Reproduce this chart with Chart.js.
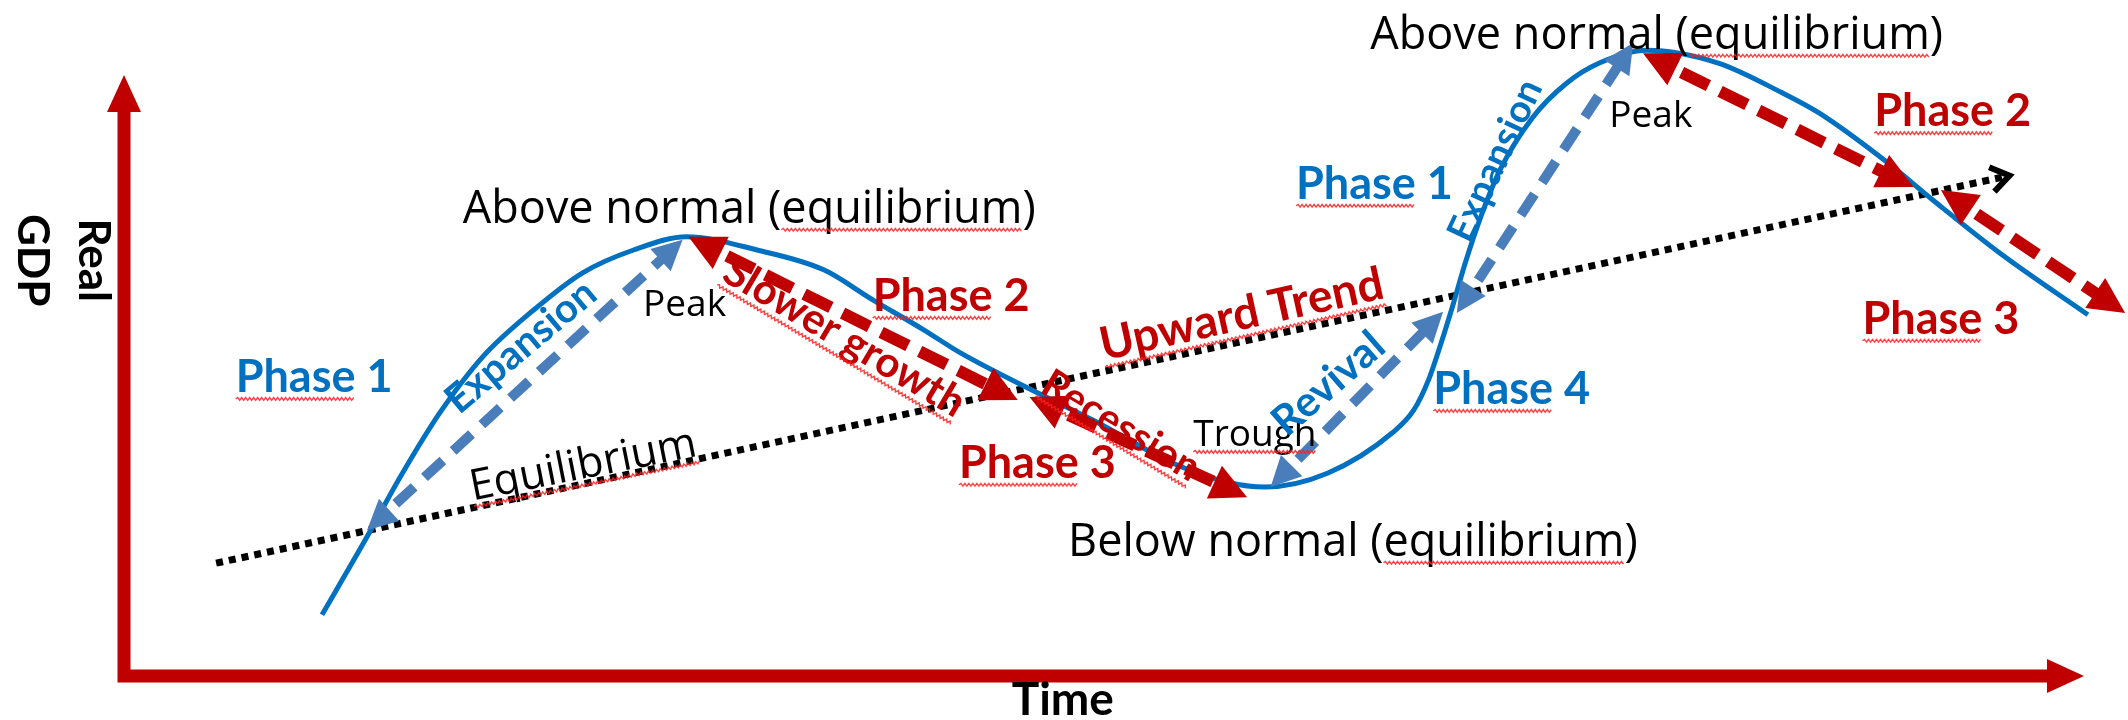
<!DOCTYPE html>
<html>
<head>
<meta charset="utf-8">
<title>Business cycle</title>
<script src="https://cdn.jsdelivr.net/npm/chart.js@4.4.1/dist/chart.umd.min.js"></script>
<style>
  body { margin: 0; background: #ffffff; }
  canvas { display: block; }
</style>
</head>
<body>
<canvas id="myChart" width="2128" height="720"></canvas>
<script>
// business cycle: time (x) against real GDP (y), both on a 0-100 scale
const cycleTime = [10.1, 12.4, 14.1, 16.1, 18.3, 20.9, 23.4, 26.0, 28.7, 32.3, 35.7, 38.2, 40.8, 42.7, 46.6, 49.4, 53.7, 56.3, 58.2,
                   61.4, 64.7, 65.8, 66.6, 67.2, 67.8, 68.4, 69.2, 70.2, 71.9, 73.6, 75.3, 77.7, 81.3, 84.6, 86.5, 90.0, 92.3, 95.7, 100.2];
const cycleGdp = [10.2, 23.2, 33.2, 43.8, 53.2, 61.0, 67.2, 71.0, 73.2, 71.0, 67.7, 62.7, 57.7, 53.8, 47.2, 42.7, 35.2, 32.3, 31.5,
                  33.8, 40.5, 44.3, 49.7, 55.5, 61.8, 68.5, 76.3, 84.3, 93.2, 98.8, 102.2, 104.3, 102.2, 97.2, 93.8, 85.5, 79.3, 70.5, 60.2];

// long run (equilibrium) trend
const trendTime = [4.7, 96.2];
const trendGdp = [18.8, 83.4];

// phase arrows, start and end of each
const blueArrowTime = [[12.4, 28.5], [58.5, 67.3], [68.0, 77.0]];
const blueArrowGdp = [[24.3, 72.7], [31.5, 60.7], [60.5, 105.5]];
const redArrowTime = [[28.8, 45.6], [46.2, 57.3], [77.5, 91.3], [92.7, 102.1]];
const redArrowGdp = [[73.2, 46.0], [46.5, 29.8], [103.8, 81.5], [81.0, 60.5]];

// text notes and where they sit
const labelText = ['Above normal (equilibrium)', 'Above normal (equilibrium)', 'Below normal (equilibrium)', 'Peak', 'Peak', 'Trough',
                   'Equilibrium', 'Phase 1', 'Phase 1', 'Phase 2', 'Phase 2', 'Phase 3', 'Phase 3', 'Phase 4',
                   'Expansion', 'Expansion', 'Revival', 'Slower growth', 'Recession', 'Upward Trend'];
const labelTime = [31.9, 78.2, 62.7, 28.6, 77.9, 57.7, 23.4, 9.7, 63.8, 42.2, 93.3, 46.6, 92.7, 70.8, 20.2, 69.9, 61.4, 36.8, 50.9, 57.0];
const labelGdp = [78.2, 107.2, 22.7, 62.2, 93.8, 40.5, 35.5, 50.0, 82.2, 63.5, 94.3, 35.7, 59.7, 48.0, 55.1, 86.0, 48.9, 56.7, 41.9, 60.5];

const axisTitles = ['Real', 'GDP', 'Time'];

const RED = '#c00000';
const BLUE = '#0070c0';
const ARROW_BLUE = '#4a7ebb';

function st(family, weight, size, color, angle, wavy) {
  return { font: weight + ' ' + size + 'px "' + family + '"', size: size, color: color, angle: angle || 0, wavy: wavy || null };
}

const labelStyle = [
  st('Open Sans', 'normal', 45, '#000', 0, 'equilibrium'),
  st('Open Sans', 'normal', 45, '#000', 0, 'equilibrium'),
  st('Open Sans', 'normal', 45, '#000', 0, 'equilibrium'),
  st('Open Sans', 'normal', 37, '#000'),
  st('Open Sans', 'normal', 37, '#000'),
  st('Open Sans', 'normal', 37, '#000', 0, 'Trough'),
  st('Open Sans', 'normal', 43, '#000', -11.2, 'Equilibrium'),
  st('Lato', 'bold', 45, BLUE, 0, 'Phase'),
  st('Lato', 'bold', 45, BLUE, 0, 'Phase'),
  st('Lato', 'bold', 45, RED, 0, 'Phase'),
  st('Lato', 'bold', 45, RED, 0, 'Phase'),
  st('Lato', 'bold', 45, RED, 0, 'Phase'),
  st('Lato', 'bold', 45, RED, 0, 'Phase'),
  st('Lato', 'bold', 45, BLUE, 0, 'Phase'),
  st('Lato', 'bold', 40, BLUE, -40),
  st('Lato', 'bold', 38, BLUE, -65),
  st('Lato', 'bold', 42, BLUE, -41),
  st('Lato', 'bold', 42, RED, 30.6, 'Slower growth'),
  st('Lato', 'bold', 40, RED, 31, 'Recession'),
  st('Lato', 'bold', 46, RED, -12.5, 'Upward Trend')
];

function pts(xs, ys) {
  return xs.map((x, i) => ({ x: x, y: ys[i] }));
}

function wavyLine(ctx, x1, x2, y) {
  ctx.beginPath();
  ctx.moveTo(x1, y);
  let up = true;
  for (let x = x1 + 2; x <= x2; x += 2) {
    ctx.lineTo(x, y + (up ? -1.4 : 1.4));
    up = !up;
  }
  ctx.stroke();
}

function drawLabel(ctx, text, px, py, s) {
  ctx.save();
  ctx.translate(px, py);
  ctx.rotate(s.angle * Math.PI / 180);
  ctx.font = s.font;
  ctx.fillStyle = s.color;
  ctx.textAlign = 'left';
  ctx.textBaseline = 'alphabetic';
  const w = ctx.measureText(text).width;
  const base = s.size * 0.36;
  ctx.fillText(text, -w / 2, base);
  if (s.wavy) {
    const i = text.indexOf(s.wavy);
    const x1 = -w / 2 + ctx.measureText(text.slice(0, i)).width;
    const x2 = x1 + ctx.measureText(s.wavy).width;
    ctx.strokeStyle = 'rgba(255,30,30,0.85)';
    ctx.lineWidth = 1.4;
    wavyLine(ctx, x1, x2, base + s.size * 0.15);
  }
  ctx.restore();
}

// red axes with arrow heads
const axesPlugin = {
  id: 'axes',
  beforeDatasetsDraw(chart) {
    const { ctx, scales: { x, y } } = chart;
    const x0 = x.getPixelForValue(0), y0 = y.getPixelForValue(0);
    const top = y.getPixelForValue(100) - 1, right = x.getPixelForValue(100);
    const head = 37, half = 17;
    ctx.save();
    ctx.strokeStyle = RED;
    ctx.fillStyle = RED;
    ctx.lineWidth = 13;
    ctx.lineJoin = 'miter';
    ctx.beginPath();
    ctx.moveTo(x0, top + head - 2);
    ctx.lineTo(x0, y0);
    ctx.lineTo(right - head + 2, y0);
    ctx.stroke();
    ctx.beginPath();
    ctx.moveTo(x0, top);
    ctx.lineTo(x0 + half, top + head);
    ctx.lineTo(x0 - half, top + head);
    ctx.closePath();
    ctx.fill();
    ctx.beginPath();
    ctx.moveTo(right, y0);
    ctx.lineTo(right - head, y0 - half);
    ctx.lineTo(right - head, y0 + half);
    ctx.closePath();
    ctx.fill();

    // axis titles
    ctx.fillStyle = '#000';
    ctx.font = 'bold 44px "Lato"';
    ctx.textAlign = 'center';
    ctx.textBaseline = 'alphabetic';
    const ty = y.getPixelForValue(69.3);
    [[axisTitles[0], x.getPixelForValue(-1.5)], [axisTitles[1], x.getPixelForValue(-4.6)]].forEach(([t, tx]) => {
      ctx.save();
      ctx.translate(tx, ty);
      ctx.rotate(Math.PI / 2);
      ctx.fillText(t, 0, 16);
      ctx.restore();
    });
    ctx.font = 'bold 46px "Lato"';
    ctx.fillText(axisTitles[2], x.getPixelForValue(47.9), y.getPixelForValue(-3.7) + 17);
    ctx.restore();
  }
};

function arrowGeom(meta) {
  const a = meta.data[0], b = meta.data[1];
  const dx = b.x - a.x, dy = b.y - a.y, len = Math.hypot(dx, dy);
  return { a: a, b: b, ux: dx / len, uy: dy / len };
}

// keeps dashed shafts out of the arrow heads, then draws the heads
const arrowPlugin = {
  id: 'arrows',
  beforeDatasetDraw(chart, args) {
    const ds = chart.data.datasets[args.index];
    if (!ds.head) return;
    const { ctx, width, height } = chart;
    const g = arrowGeom(args.meta);
    ctx.save();
    ctx.beginPath();
    ctx.rect(0, 0, width + 50, height + 50);
    [[g.a, -1], [g.b, 1]].forEach(([p, s]) => {
      const ux = g.ux * s, uy = g.uy * s, nx = -uy, ny = ux;
      const bx = p.x - ux * (ds.head.len - 3), by = p.y - uy * (ds.head.len - 3);
      const w = ds.borderWidth;
      ctx.moveTo(bx + nx * w, by + ny * w);
      ctx.lineTo(p.x + ux * 20 + nx * w, p.y + uy * 20 + ny * w);
      ctx.lineTo(p.x + ux * 20 - nx * w, p.y + uy * 20 - ny * w);
      ctx.lineTo(bx - nx * w, by - ny * w);
      ctx.closePath();
    });
    ctx.clip('evenodd');
  },
  afterDatasetDraw(chart, args) {
    const ds = chart.data.datasets[args.index];
    const ctx = chart.ctx;
    if (ds.head) {
      ctx.restore();
      const g = arrowGeom(args.meta);
      ctx.save();
      ctx.fillStyle = ds.borderColor;
      [[g.a, -1], [g.b, 1]].forEach(([p, s]) => {
        const ux = g.ux * s, uy = g.uy * s, nx = -uy, ny = ux;
        const bx = p.x - ux * ds.head.len, by = p.y - uy * ds.head.len;
        ctx.beginPath();
        ctx.moveTo(p.x, p.y);
        ctx.lineTo(bx + nx * ds.head.half, by + ny * ds.head.half);
        ctx.lineTo(bx - nx * ds.head.half, by - ny * ds.head.half);
        ctx.closePath();
        ctx.fill();
      });
      ctx.restore();
    }
    if (ds.openHead) {
      const pts = args.meta.data;
      const a = pts[pts.length - 2], b = pts[pts.length - 1];
      const ang = Math.atan2(b.y - a.y, b.x - a.x);
      ctx.save();
      ctx.strokeStyle = ds.borderColor;
      ctx.lineWidth = 6;
      ctx.lineJoin = 'miter';
      ctx.beginPath();
      ctx.moveTo(b.x + 22 * Math.cos(ang + Math.PI - 0.6), b.y + 22 * Math.sin(ang + Math.PI - 0.6));
      ctx.lineTo(b.x, b.y);
      ctx.lineTo(b.x + 22 * Math.cos(ang + Math.PI + 0.6), b.y + 22 * Math.sin(ang + Math.PI + 0.6));
      ctx.stroke();
      ctx.restore();
    }
  }
};

const labelPlugin = {
  id: 'notes',
  afterDatasetsDraw(chart) {
    const { ctx, scales: { x, y } } = chart;
    labelText.forEach((t, i) => {
      drawLabel(ctx, t, x.getPixelForValue(labelTime[i]), y.getPixelForValue(labelGdp[i]), labelStyle[i]);
    });
  }
};

const datasets = [];
redArrowTime.forEach((xs, i) => {
  datasets.push({
    data: pts(xs, redArrowGdp[i]), showLine: true, borderColor: RED, borderWidth: 12,
    borderDash: [30, 13], pointRadius: 0, clip: false, order: 1, head: { len: 36, half: 18 }
  });
});
blueArrowTime.forEach((xs, i) => {
  datasets.push({
    data: pts(xs, blueArrowGdp[i]), showLine: true, borderColor: ARROW_BLUE, borderWidth: 10,
    borderDash: [25, 14], pointRadius: 0, clip: false, order: 2, head: { len: 30, half: 15 }
  });
});
datasets.push({
  data: pts(cycleTime, cycleGdp), showLine: true, borderColor: BLUE, borderWidth: 5,
  cubicInterpolationMode: 'monotone', pointRadius: 0, clip: false, order: 3
});
datasets.push({
  data: pts(trendTime, trendGdp), showLine: true, borderColor: '#000', borderWidth: 7,
  borderDash: [7, 6], pointRadius: 0, clip: false, order: 4, openHead: true
});

const chart = new Chart(document.getElementById('myChart').getContext('2d'), {
  type: 'scatter',
  data: { datasets: datasets },
  options: {
    responsive: false,
    animation: false,
    devicePixelRatio: 1,
    events: [],
    layout: { padding: { left: 124, right: 44, top: 76, bottom: 44 } },
    scales: {
      x: { type: 'linear', min: 0, max: 100, display: false },
      y: { type: 'linear', min: 0, max: 100, display: false }
    },
    plugins: { legend: { display: false }, tooltip: { enabled: false } }
  },
  plugins: [axesPlugin, arrowPlugin, labelPlugin]
});
</script>
</body>
</html>
